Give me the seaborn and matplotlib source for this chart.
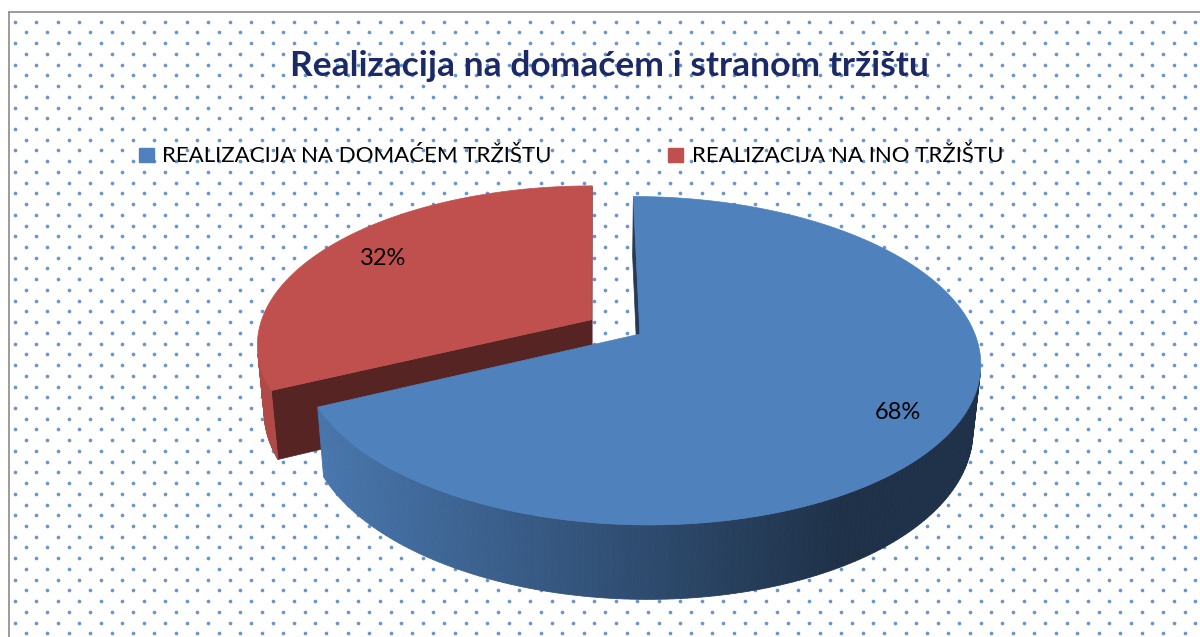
import numpy as np
import matplotlib
matplotlib.use("Agg")
import matplotlib.pyplot as plt
import seaborn as sns
from matplotlib.patches import Rectangle

# ===============================
# Data
# ===============================
title = "Realizacija na domaćem i stranom tržištu"
labels = ["REALIZACIJA NA DOMAĆEM TRŽIŠTU", "REALIZACIJA NA INO TRŽIŠTU"]
shares = [68, 32]
explode = [0.0, 0.17]

sns.set_theme(style="white")
plt.rcParams["font.family"] = ["Lato", "DejaVu Sans"]
colors = sns.color_palette(["#4f81bd", "#c0504d"])

# ===============================
# Canvas in pixel units
# ===============================
W, H = 1200, 637
fig = plt.figure(figsize=(W / 100, H / 100), dpi=100)
ax = fig.add_axes([0, 0, 1, 1])

# dotted chart-area background
rows = np.arange(21.7 - 10.73, H + 10, 10.73)
dx, dy = [], []
for j, yy in enumerate(rows):
    off = 25.7 if j % 2 == 0 else 15.0
    xs = np.arange(off, W + 5, 21.46)
    dx.extend(xs)
    dy.extend([yy] * len(xs))
dx, dy = np.array(dx), np.array(dy)
keep = (dx > 11) & (dy > 13)
sns.scatterplot(x=dx[keep], y=dy[keep], ax=ax, s=7, color="#6b95cd",
                linewidth=0, legend=False, zorder=1)

# chart border (top and left visible)
ax.plot([9, W], [11.5, 11.5], color="#8a8a8a", lw=1.2, zorder=1.5)
ax.plot([9, 9], [11.5, H], color="#8a8a8a", lw=1.2, zorder=1.5)

# ===============================
# 3D pie (perspective projection)
# ===============================
a = np.radians(28.5)
D = 5.4
f = 1809
h = 0.23
cam_x = -0.14
cx, cy = 593, 334
cam = np.array([cam_x, -D * np.cos(a), D * np.sin(a)])


def project(X, Y, Z):
    depth = D + Y * np.cos(a) - Z * np.sin(a)
    sx = cx + f * (X - cam_x) / depth
    sy = cy - f * (Y * np.sin(a) + Z * np.cos(a)) / depth
    return sx, sy


def shade(c, k):
    return tuple(np.clip(np.array(c) * k, 0, 1))


def side_k(sx):
    return np.clip(0.92 - 0.6 * (sx - 320) / 580, 0.38, 0.92)


wedges = []
t = 90.0
for s, e, c in zip(shares, explode, colors):
    span = 360.0 * s / sum(shares)
    t0, t1 = t - span, t
    mid = np.radians((t0 + t1) / 2)
    wedges.append(dict(t0=t0, t1=t1, ox=e * np.cos(mid), oy=e * np.sin(mid),
                       color=c, share=s, mid=mid))
    t = t0

z = 2
for w in sorted(wedges, key=lambda w: -w["oy"]):
    ox, oy, c = w["ox"], w["oy"], w["color"]
    phi = np.radians(np.linspace(w["t0"], w["t1"], 240))
    px, py = ox + np.cos(phi), oy + np.sin(phi)

    # radial cut faces
    for ang, n in [(w["t0"], lambda r: (np.sin(r), -np.cos(r))),
                   (w["t1"], lambda r: (-np.sin(r), np.cos(r)))]:
        r = np.radians(ang)
        nx, ny = n(r)
        P = np.array([ox + 0.5 * np.cos(r), oy + 0.5 * np.sin(r), -h / 2])
        if nx * (cam[0] - P[0]) + ny * (cam[1] - P[1]) > 0:
            X = [ox, ox + np.cos(r), ox + np.cos(r), ox]
            Y = [oy, oy + np.sin(r), oy + np.sin(r), oy]
            Z = [0, 0, -h, -h]
            sx, sy = project(np.array(X), np.array(Y), np.array(Z))
            col = shade(c, 0.45)
            ax.fill(sx, sy, color=col, ec=col, lw=0.5, zorder=z)
    z += 1

    # outer curved side
    for i in range(len(phi) - 1):
        pm = (phi[i] + phi[i + 1]) / 2
        P = np.array([ox + np.cos(pm), oy + np.sin(pm)])
        if np.cos(pm) * (cam[0] - P[0]) + np.sin(pm) * (cam[1] - P[1]) <= 0:
            continue
        X = np.array([px[i], px[i + 1], px[i + 1], px[i]])
        Y = np.array([py[i], py[i + 1], py[i + 1], py[i]])
        Z = np.array([0, 0, -h, -h])
        sx, sy = project(X, Y, Z)
        col = shade(c, side_k(sx.mean()))
        ax.fill(sx, sy, color=col, ec=col, lw=0.6, zorder=z)
    z += 1

    # top face
    sx, sy = project(np.r_[ox, px], np.r_[oy, py], np.zeros(len(px) + 1))
    ax.fill(sx, sy, color=c, ec=c, lw=0.5, zorder=z)
    z += 1

    # percentage label
    lr = 0.82
    lx, ly = project(ox + lr * np.cos(w["mid"]), oy + lr * np.sin(w["mid"]), 0.0)
    ax.text(lx + 5, ly + 3, f"{w['share']}%", ha="center", va="center",
            fontsize=17, color="black", zorder=20)

# ===============================
# Title and legend
# ===============================
ax.text(609, 76, title, ha="center", va="baseline", fontsize=25.5,
        fontweight="bold", color="#1b2a66", zorder=20)

legend_pos = [(139, 162), (668, 692)]
for (sq, tx), lab, c in zip(legend_pos, labels, colors):
    ax.add_patch(Rectangle((sq, 148), 15, 14, color=c, zorder=20))
    ax.text(tx, 162, lab, ha="left", va="baseline", fontsize=16,
            color="black", zorder=20)

ax.set_xlim(0, W)
ax.set_ylim(H, 0)
ax.axis("off")
fig.savefig("out.png", dpi=100, facecolor="white")
